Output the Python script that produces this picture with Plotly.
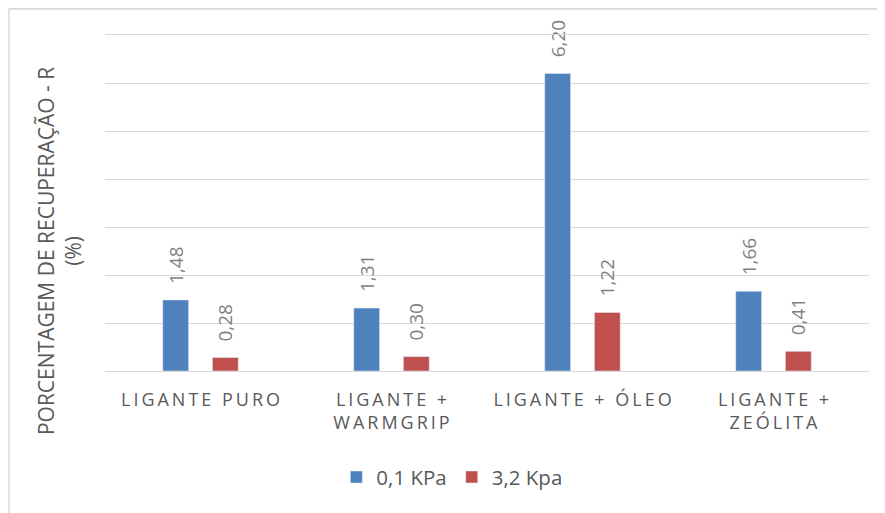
import plotly.graph_objects as go

GAP = "\u2009"  # thin space, to mimic the spread-out category lettering


def spaced(s):
    return "<br>".join(GAP.join(line) for line in s.split("\n"))


categories = ["LIGANTE PURO", "LIGANTE +\nWARMGRIP", "LIGANTE + ÓLEO", "LIGANTE +\nZEÓLITA"]
kpa_01 = [1.48, 1.31, 6.20, 1.66]
kpa_32 = [0.28, 0.30, 1.22, 0.41]

labels = [spaced(c) for c in categories]

fig = go.Figure()
for name, vals, color in [("0,1 KPa", kpa_01, "#4f81bd"), ("3,2 Kpa", kpa_32, "#c0504d")]:
    fig.add_trace(go.Bar(
        x=labels, y=vals, name=name,
        marker=dict(color=color),
        text=vals,
        texttemplate="\u00a0\u00a0\u2009%{y:.2f}",
        textposition="outside",
        textangle=-90,
        constraintext="none",
        cliponaxis=False,
        textfont=dict(family="Open Sans", size=19, color="#7f7f7f"),
    ))

# the page body adds 8px around the figure, so margins are set 8px short
fig.update_layout(
    width=885, height=513,
    paper_bgcolor="white", plot_bgcolor="white",
    separators=",.",
    barmode="group", bargap=0.48, bargroupgap=0.48,
    margin=dict(l=97, r=24, t=27, b=150, autoexpand=False),
    font=dict(family="Open Sans", color="#595959"),
    showlegend=True,
    legend=dict(orientation="h", x=0.454, xanchor="center", y=-0.316, yanchor="middle",
                font=dict(size=20.5, color="#595959"), itemwidth=30),
    shapes=[dict(type="line", xref="paper", yref="paper", x0=-0.1257, x1=1.04, y0=1.078, y1=1.078,
                 line=dict(color="#d9d9d9", width=2)),
            dict(type="line", xref="paper", yref="paper", x0=-0.1257, x1=-0.1257, y0=1.078, y1=-0.446,
                 line=dict(color="#d9d9d9", width=1.5))],
    annotations=[dict(text="PORCENTAGEM DE RECUPERAÇÃO - R<br>(%)", textangle=-90,
                      xref="paper", yref="paper", x=-0.0602, y=0.357,
                      xanchor="center", yanchor="middle", showarrow=False,
                      font=dict(size=21, color="#595959"))],
)
fig.update_xaxes(
    showgrid=False, showline=True, mirror=True, linecolor="#d9d9d9", linewidth=1,
    ticks="", tickfont=dict(size=18, color="#595959"), ticklabelstandoff=12,
)
fig.update_yaxes(
    range=[0, 7], dtick=1, showgrid=True, gridcolor="#d9d9d9", gridwidth=1,
    showticklabels=False, zeroline=False,
)

fig.write_html("out.html")
